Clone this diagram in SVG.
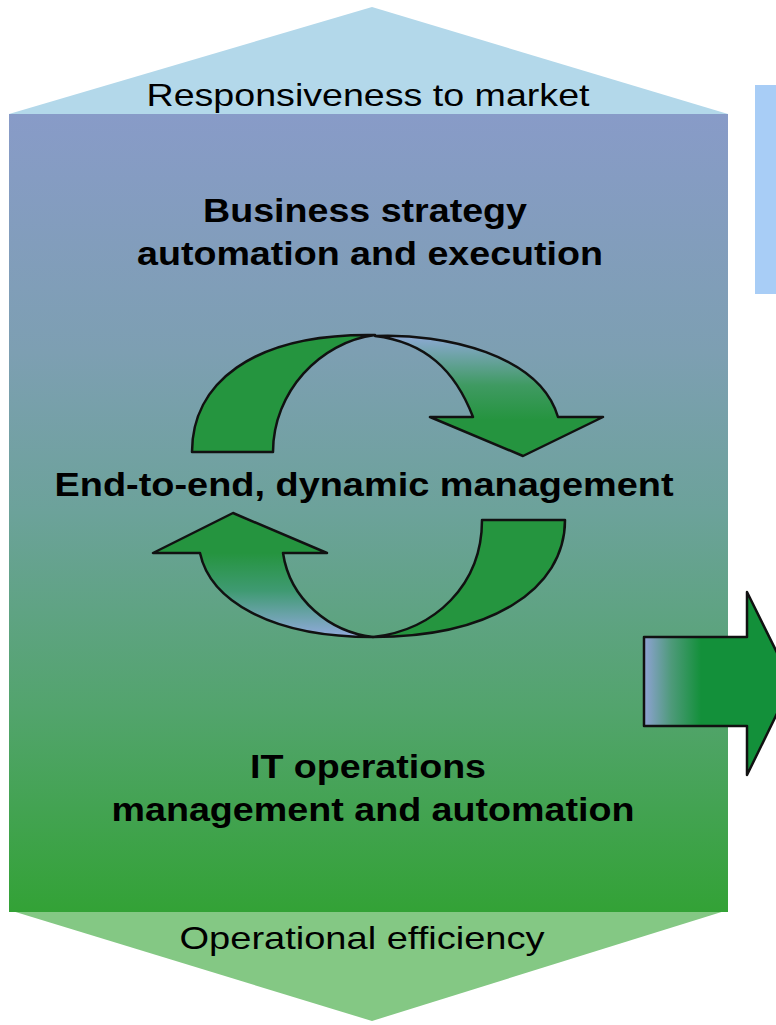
<svg xmlns="http://www.w3.org/2000/svg" width="776" height="1025" viewBox="0 0 776 1025">
<defs>
<linearGradient id="bg" x1="0" y1="113" x2="0" y2="912" gradientUnits="userSpaceOnUse">
<stop offset="0" stop-color="#889bc8"/>
<stop offset="0.3" stop-color="#7d9fb2"/>
<stop offset="0.5" stop-color="#6ca29a"/>
<stop offset="0.75" stop-color="#52a46c"/>
<stop offset="1" stop-color="#33a236"/>
</linearGradient>
<linearGradient id="gUp" x1="0" y1="333" x2="0" y2="420" gradientUnits="userSpaceOnUse">
<stop offset="0" stop-color="#92aadc"/>
<stop offset="0.6" stop-color="#3f9a62"/>
<stop offset="1" stop-color="#25943f"/>
</linearGradient>
<linearGradient id="gDn" x1="0" y1="553" x2="0" y2="637" gradientUnits="userSpaceOnUse">
<stop offset="0" stop-color="#25943f"/>
<stop offset="0.45" stop-color="#3f9a72"/>
<stop offset="1" stop-color="#92aadc"/>
</linearGradient>
<linearGradient id="gRight" x1="644" y1="0" x2="780" y2="0" gradientUnits="userSpaceOnUse">
<stop offset="0" stop-color="#8fa2d4"/>
<stop offset="0.2" stop-color="#4e9a7a"/>
<stop offset="0.42" stop-color="#13903a"/>
<stop offset="1" stop-color="#13903a"/>
</linearGradient>
</defs>
<style>
.bold{font-family:"Liberation Sans",Arial,sans-serif;font-weight:bold;font-size:34px;fill:#000}
.reg{font-family:"Liberation Sans",Arial,sans-serif;font-size:32px;fill:#000}
.arr{stroke:#111;stroke-width:2.5;stroke-linejoin:round}
</style>
<g id="top-arrow">
<polygon points="372,7 728,114 9,114" fill="#b3d8ea"/>
<text class="reg" x="368" y="106" text-anchor="middle" textLength="443" lengthAdjust="spacingAndGlyphs">Responsiveness to market</text>
</g>
<g id="bottom-arrow">
<polygon points="9,910 728,910 372,1021" fill="#84c884"/>
<text class="reg" x="362" y="949" text-anchor="middle" textLength="365" lengthAdjust="spacingAndGlyphs">Operational efficiency</text>
</g>
<g id="main-panel">
<rect x="9" y="114" width="719" height="798" fill="url(#bg)"/>
</g>
<g id="side-bar">
<rect x="755" y="85" width="21" height="209" fill="#a8cdf6"/>
</g>
<g id="label-business">
<text class="bold" x="365" y="222" text-anchor="middle" textLength="324" lengthAdjust="spacingAndGlyphs">Business strategy</text>
<text class="bold" x="370" y="265" text-anchor="middle" textLength="466" lengthAdjust="spacingAndGlyphs">automation and execution</text>
</g>
<g id="label-e2e">
<text class="bold" x="364" y="496" text-anchor="middle" textLength="619" lengthAdjust="spacingAndGlyphs">End-to-end, dynamic management</text>
</g>
<g id="label-it">
<text class="bold" x="368" y="778" text-anchor="middle" textLength="236" lengthAdjust="spacingAndGlyphs">IT operations</text>
<text class="bold" x="373" y="821" text-anchor="middle" textLength="523" lengthAdjust="spacingAndGlyphs">management and automation</text>
</g>
<g id="connectors">
<g id="cycle-upper">
<path class="arr" d="M375,336 C445,333 540,355 558,417 L603,417 L523,456 L430,417 L473,417 C455,370 425,342 375,336 Z" fill="url(#gUp)"/>
<path class="arr" d="M192,452 C192,385 250,333 375,335 C320,342 273,392 273,452 Z" fill="#25953f"/>
</g>
<g id="cycle-lower">
<path class="arr" d="M200,553 C210,600 270,637 373,637 C330,632 290,600 283,553 L327,553 L233,513 L153,553 Z" fill="url(#gDn)"/>
<path class="arr" d="M565,520 C565,590 490,637 373,637 C435,630 482,585 482,520 Z" fill="#25953f"/>
</g>
<g id="right-arrow">
<path class="arr" d="M644,637 L747,637 L747,592 L792,683 L747,775 L747,726 L644,726 Z" fill="url(#gRight)"/>
</g>
</g>
</svg>
